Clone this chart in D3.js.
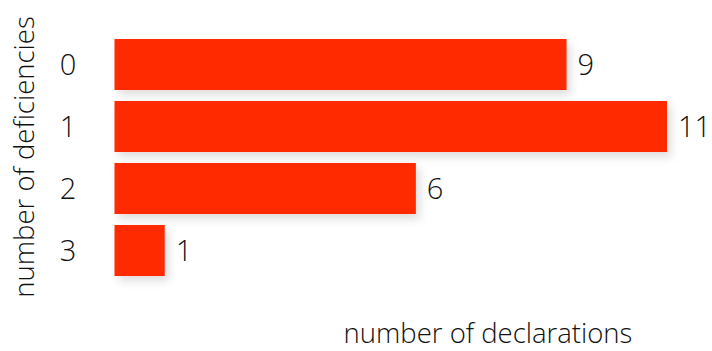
<!DOCTYPE html>
<html>
<head>
<meta charset="utf-8">
<script src="https://cdn.jsdelivr.net/npm/d3@7"></script>
<style>
  body { margin: 0; background: #fff; }
  text { font-family: "Open Sans", "Liberation Sans", Helvetica, Arial, sans-serif; font-weight: 300; fill: #111; }
</style>
</head>
<body>
<script>
// chart size
var w = 712, h = 351;

// data
var deficiencies = ["0", "1", "2", "3"];
var declarations = [9, 11, 6, 1];

window.onload = function(){

    var svg = d3.select("body")
        .append("svg")
        .attr("width", w)
        .attr("height", h);

    // soft shadow under the bars
    var filter = svg.append("defs").append("filter")
        .attr("id", "shadow")
        .attr("x", "-20%").attr("y", "-30%")
        .attr("width", "140%").attr("height", "170%");
    filter.append("feDropShadow")
        .attr("dx", 4)
        .attr("dy", 5)
        .attr("stdDeviation", 4)
        .attr("flood-color", "#000")
        .attr("flood-opacity", 0.13);

    var x = d3.scaleLinear()
        .domain([0, 11])
        .range([114.5, 667]);

    var y = d3.scaleBand()
        .domain(deficiencies)
        .range([33.5, 281.5])
        .paddingInner(0.177)
        .paddingOuter(0.0885);

    // bars
    svg.selectAll(".bar")
        .data(declarations)
        .enter()
        .append("rect")
        .attr("class", "bar")
        .attr("x", x(0))
        .attr("y", function(d, i){ return y(deficiencies[i]); })
        .attr("width", function(d){ return x(d) - x(0); })
        .attr("height", y.bandwidth())
        .style("fill", "#ff2a00")
        .attr("filter", "url(#shadow)");

    // value labels
    svg.selectAll(".value")
        .data(declarations)
        .enter()
        .append("text")
        .attr("class", "value")
        .attr("x", function(d){ return x(d) + 11; })
        .attr("y", function(d, i){ return y(deficiencies[i]) + y.bandwidth() / 2; })
        .attr("dy", "0.36em")
        .style("font-size", "29px")
        .text(function(d){ return d; });

    // category labels
    svg.selectAll(".cat")
        .data(deficiencies)
        .enter()
        .append("text")
        .attr("class", "cat")
        .attr("text-anchor", "middle")
        .attr("x", 68)
        .attr("y", function(d){ return y(d) + y.bandwidth() / 2; })
        .attr("dy", "0.36em")
        .style("font-size", "29px")
        .text(function(d){ return d; });

    // axis titles
    svg.append("text")
        .attr("text-anchor", "middle")
        .attr("transform", "translate(34,157) rotate(-90)")
        .style("font-size", "27.5px")
        .text("number of deficiencies");

    svg.append("text")
        .attr("text-anchor", "middle")
        .attr("x", 488)
        .attr("y", 343)
        .style("font-size", "27.5px")
        .text("number of declarations");
};
</script>
</body>
</html>
